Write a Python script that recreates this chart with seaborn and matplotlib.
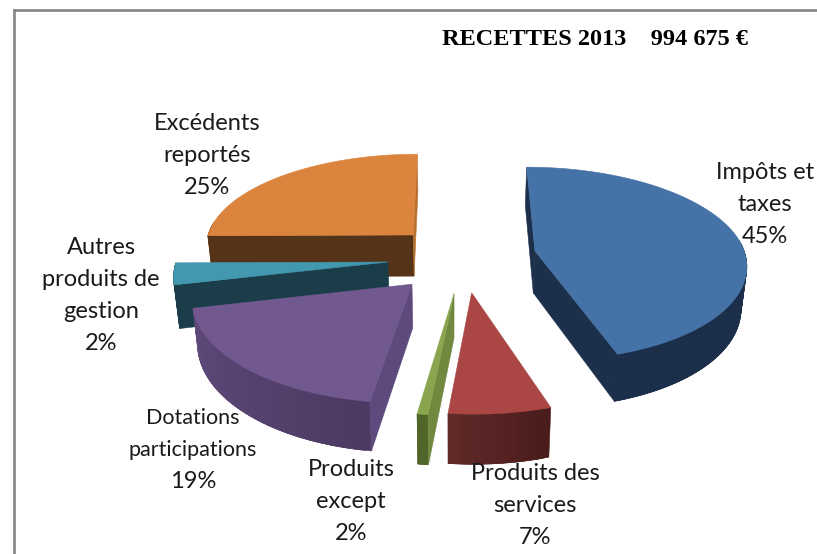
import numpy as np
import matplotlib
matplotlib.use("Agg")
import matplotlib.pyplot as plt
from matplotlib.colors import to_rgb
import seaborn as sns

# ---- data ----
categories = ["Impôts et\ntaxes", "Produits des\nservices", "Produits\nexcept",
              "Dotations\nparticipations", "Autres\nproduits de\ngestion", "Excédents\nreportés"]
# percentages as printed on the chart
printed_pct = [45, 7, 2, 19, 2, 25]
slice_sizes = [45.0, 6.67, 0.7, 19.03, 3.47, 25.13]
title = "RECETTES 2013    994 675 €"

# ---- style: colours per slice ----
top_colors = ["#4572a7", "#aa4643", "#89a54e", "#71588f", "#4198af", "#db843d"]
wall_start = ["#1b2f4a", "#4a1c1c", "#50652a", "#4c3a63", "#1b3d4a", "#553318"]
wall_end = ["#1b2f4a", "#5f2a28", "#50652a", "#5f4a7a", "#1b3d4a", "#553318"]
face_start = ["#1c304b", "#5a2625", "#71893f", "#5e4a7c", "#1b3d4a", "#553318"]
face_end = ["#1c304b", "#5a2625", "#50652a", "#5e4a7c", "#1b3d4a", "#b8702e"]
# explosion of each slice in the pie's own plane (sideways, depthwise)
explode_x = [83, 18, 1, -40, -65, -41]
explode_d = [25, -66, -68, -48, 0, 62]
draw_order = [5, 4, 0, 3, 2, 1]
# label placement (text centre) and sizes
label_x = [765, 535, 351, 193, 101, 207]
label_y = [204.5, 505, 502, 450, 296, 155]
label_size = [17, 17, 17, 15.5, 17, 17]
label_pct_size = [17, 17, 17, 17, 17, 17]

# ---- projection ----
CX, VY, Y0, K, R, H, SHRINK = 453.0, -588.0, 262.0, 0.00053, 212.0, 42.5, 0.98
FRONT_STRETCH = 1.04
EYE_D = -1 / K


def project(px, pd, low=False):
    w = 1 + K * np.asarray(pd, float)
    span = Y0 - VY
    y = VY + (span + (H if low else 0)) / w
    x = CX + np.asarray(px, float) / w
    if low:
        x = CX + (x - CX) * SHRINK
    return x, y


def mix(a, b, t):
    a, b = np.array(to_rgb(a)), np.array(to_rgb(b))
    return tuple(a + (b - a) * t)


sns.set_theme(style="white")
fig = plt.figure(figsize=(8.17, 5.54), dpi=100)
fig.patch.set_facecolor("white")
ax = fig.add_axes([14 / 817, 0, 1 - 14 / 817, 1 - 10 / 554])
ax.set_xlim(14, 817)
ax.set_ylim(554, 10)
ax.set_xticks([])
ax.set_yticks([])
sns.despine(ax=ax, top=False, left=False, right=True, bottom=True)
for side in ("left", "top"):
    ax.spines[side].set_color("#868686")
    ax.spines[side].set_linewidth(1.9)

shares = np.asarray(slice_sizes, float) / np.sum(slice_sizes) * 2 * np.pi
ends = np.cumsum(shares)
starts = ends - shares


def quad(x0, y0, x1, y1, x2, y2, x3, y3, color, z):
    ax.fill([x0, x1, x2, x3], [y0, y1, y2, y3], facecolor=color, edgecolor=color,
            linewidth=0.4, zorder=z)


for rank, i in enumerate(draw_order):
    z = 10 + rank * 5
    th = np.linspace(starts[i], ends[i], max(8, int(np.degrees(shares[i]) / 1.5)))
    ox, od = explode_x[i], explode_d[i]
    c = np.cos(th)
    px = ox + R * np.sin(th)
    pd_ = od + R * c * np.where(c < 0, FRONT_STRETCH, 1.0)
    tx, ty = project(px, pd_)
    lx, ly = project(px, pd_, low=True)
    ax_t, ay_t = project(ox, od)
    ax_l, ay_l = project(ox, od, low=True)
    # outer wall (only the part turned to the viewer), strips overlap to hide seams
    n = len(th)
    for j in range(n - 1):
        if c[j] > 0.1 and c[j + 1] > 0.1:
            continue
        t = j / max(1, n - 2)
        k = min(j + 2, n - 1)
        quad(tx[j], ty[j], tx[k], ty[k], lx[k], ly[k], lx[j], ly[j],
             mix(wall_start[i], wall_end[i], t), z)
    # radial faces (only if turned to the viewer)
    ex, ed = -ox, EYE_D - od
    a0, a1 = starts[i], ends[i]
    if (-np.cos(a0)) * ex + np.sin(a0) * ed > 0:
        quad(ax_t, ay_t, tx[0], ty[0], lx[0], ly[0], ax_l, ay_l, face_start[i], z + 1)
    if np.cos(a1) * ex - np.sin(a1) * ed > 0:
        quad(ax_t, ay_t, tx[-1], ty[-1], lx[-1], ly[-1], ax_l, ay_l, face_end[i], z + 1)
    # top face
    ax.fill(np.r_[ax_t, tx], np.r_[ay_t, ty], facecolor=top_colors[i],
            edgecolor=top_colors[i], linewidth=0.4, zorder=z + 2)

LINE = 32
for i, (cat, val) in enumerate(zip(categories, printed_pct)):
    lines = cat.split("\n")
    n = len(lines) + 1
    for k, line in enumerate(lines):
        ax.text(label_x[i], label_y[i] + (k - (n - 1) / 2) * LINE, line, ha="center",
                va="center", fontsize=label_size[i], family="Lato", color="#1a1a1a", zorder=60)
    ax.text(label_x[i], label_y[i] + (n - 1) / 2 * LINE, f"{val}%", ha="center", va="center",
            fontsize=label_pct_size[i], family="Lato", color="#1a1a1a", zorder=60)

ax.text(594.5, 39.5, title, ha="center", va="center", fontsize=17.5, fontweight="bold",
        family="Liberation Serif", color="black", zorder=60)

fig.savefig("out.png", dpi=100)
